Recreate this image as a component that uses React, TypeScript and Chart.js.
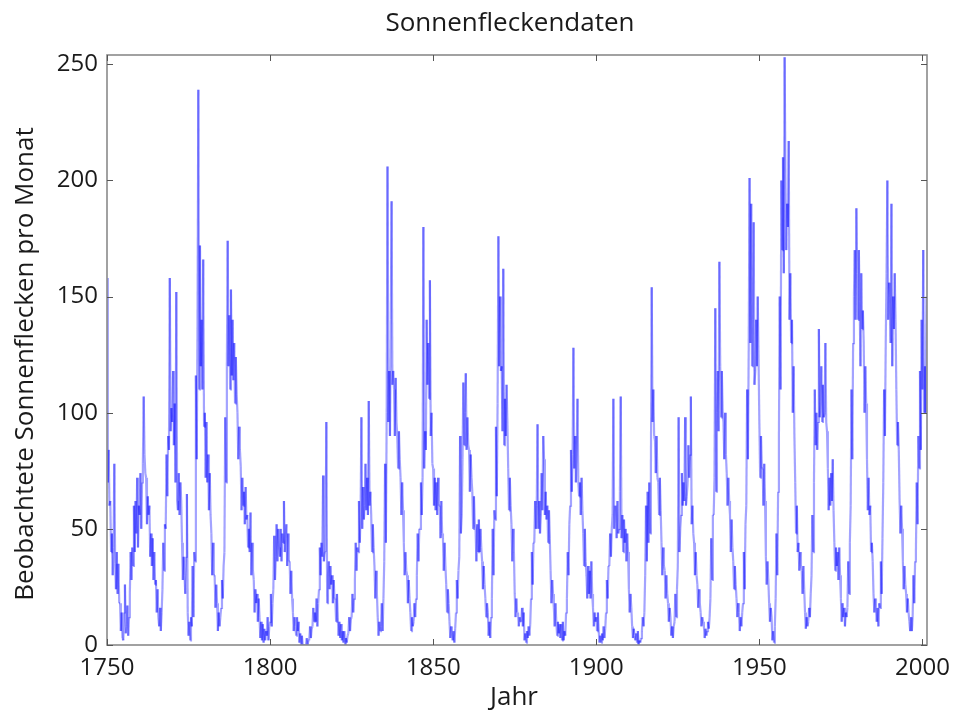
import React, { useEffect, useRef } from "react";
import { Chart, registerables } from "chart.js";

Chart.register(...registerables);

// Quarterly samples (4 per year), starting at 1750.0
const startYear = 1750;
const samplesPerYear = 4;

const sunspots1750 = [
  158, 70, 84, 60, 62, 40, 48, 30, 42, 78, 35, 24, 40, 22, 35, 18, 18, 6, 14, 3,
  2, 14, 26, 5, 8, 17, 4, 12, 22, 40, 28, 42, 34, 60, 40, 62, 48, 72, 42, 60,
  56, 74, 50, 70, 78, 107, 82, 74, 72, 52, 64, 56, 60, 38, 48, 34, 46, 28, 40, 26,
  28, 14, 24, 12, 8, 16, 6, 14, 24, 44, 32, 52, 50, 82, 64, 90, 84, 158, 92, 102,
  96, 118, 86, 104, 70, 152, 62, 58, 74, 56, 70, 62, 44, 28, 38, 30, 22, 38, 65, 14,
  4, 10, 2, 12, 8, 34, 12, 40, 36, 116, 80, 136, 239, 110, 172, 120, 140, 110, 166, 94,
  100, 72, 96, 70, 82, 58, 74, 56, 48, 30, 44, 30, 30, 16, 26, 18, 6, 14, 8, 12,
  16, 28, 20, 34, 40, 98, 70, 120, 174, 120, 142, 110, 153, 116, 140, 114, 130, 104, 124, 108,
  100, 80, 94, 84, 77, 58, 72, 60, 66, 52, 68, 54, 56, 42, 50, 40, 57, 30, 44, 32,
  28, 14, 24, 18, 22, 10, 20, 12, 3, 10, 2, 9, 1, 7, 2, 6, 4, 12, 2, 8,
];

const sunspots1800 = [
  10, 22, 8, 18, 24, 47, 28, 38, 52, 36, 50, 42, 38, 50, 36, 48, 44, 62, 40, 46,
  52, 34, 48, 36, 36, 22, 32, 20, 14, 6, 12, 8, 4, 12, 6, 10, 1, 5, 0, 4,
  0, 0, 0, 0, 0, 3, 0, 2, 2, 8, 3, 7, 8, 16, 10, 14, 10, 20, 8, 18,
  24, 42, 30, 44, 38, 73, 36, 40, 40, 96, 18, 30, 36, 24, 34, 26, 30, 18, 28, 20,
  20, 10, 22, 12, 4, 10, 3, 9, 2, 6, 1, 6, 0, 3, 1, 4, 5, 12, 6, 11,
  12, 22, 14, 20, 28, 44, 32, 42, 40, 62, 44, 56, 98, 50, 68, 54, 60, 78, 58, 72,
  56, 105, 60, 66, 56, 40, 52, 42, 34, 20, 32, 22, 12, 4, 10, 6, 8, 18, 6, 20,
  36, 78, 44, 100, 206, 96, 118, 90, 140, 191, 112, 118, 110, 90, 115, 96, 90, 76, 92, 80,
  72, 56, 70, 58, 44, 30, 40, 32, 30, 18, 28, 20, 14, 6, 12, 8, 10, 18, 12, 20,
  30, 48, 36, 50, 50, 70, 56, 72, 180, 76, 92, 84, 140, 112, 130, 106, 157, 90, 100, 78,
];

const sunspots1850 = [
  76, 60, 72, 58, 70, 56, 72, 60, 60, 46, 62, 48, 46, 32, 44, 34, 26, 14, 24, 18,
  10, 3, 8, 5, 2, 6, 1, 7, 14, 28, 20, 32, 38, 90, 48, 56, 80, 113, 86, 100,
  117, 84, 98, 86, 84, 66, 82, 72, 66, 50, 64, 52, 50, 36, 52, 40, 54, 40, 50, 42,
  36, 24, 34, 26, 20, 12, 18, 14, 4, 10, 3, 12, 20, 50, 30, 58, 54, 94, 64, 104,
  176, 120, 150, 118, 120, 92, 162, 86, 106, 90, 112, 96, 76, 58, 72, 60, 52, 36, 50, 40,
  22, 12, 20, 14, 14, 8, 12, 10, 10, 16, 8, 14, 2, 5, 1, 6, 3, 8, 4, 9,
  20, 40, 26, 44, 44, 62, 50, 60, 95, 50, 62, 48, 56, 74, 58, 90, 80, 56, 66, 54,
  60, 44, 58, 46, 32, 18, 28, 22, 16, 8, 18, 10, 4, 10, 5, 9, 3, 9, 2, 10,
  2, 6, 4, 14, 20, 40, 30, 52, 60, 84, 66, 82, 128, 76, 90, 70, 84, 106, 70, 64,
  70, 56, 72, 58, 48, 34, 50, 36, 30, 20, 34, 22, 32, 20, 36, 22, 16, 8, 14, 10,
];

const sunspots1900 = [
  12, 6, 14, 6, 1, 4, 1, 5, 2, 8, 3, 7, 14, 28, 20, 34, 34, 48, 38, 50,
  56, 106, 50, 60, 60, 46, 62, 48, 50, 66, 107, 46, 56, 40, 54, 44, 50, 36, 48, 40,
  24, 14, 22, 16, 8, 3, 7, 4, 2, 5, 1, 6, 0, 2, 1, 3, 6, 12, 8, 14,
  30, 60, 36, 66, 44, 70, 48, 74, 154, 96, 110, 90, 88, 74, 90, 72, 70, 56, 72, 58,
  44, 30, 42, 34, 32, 20, 30, 22, 18, 10, 16, 12, 4, 8, 3, 8, 10, 22, 12, 24,
  34, 98, 40, 50, 56, 74, 60, 70, 62, 98, 60, 64, 70, 86, 72, 82, 107, 52, 60, 48,
  44, 30, 40, 30, 26, 16, 24, 18, 14, 8, 12, 10, 8, 3, 7, 4, 6, 10, 7, 12,
  20, 46, 28, 56, 56, 72, 145, 66, 100, 118, 92, 165, 120, 98, 118, 100, 96, 80, 100, 82,
  74, 60, 72, 62, 56, 40, 54, 42, 36, 24, 34, 26, 20, 12, 18, 14, 6, 12, 8, 14,
  18, 40, 24, 52, 60, 110, 80, 130, 201, 130, 190, 120, 140, 182, 112, 118, 140, 120, 150, 124,
];

const sunspots1950 = [
  96, 72, 90, 76, 76, 60, 78, 62, 38, 26, 36, 28, 18, 10, 16, 12, 2, 6, 1, 8,
  20, 48, 30, 66, 90, 150, 110, 200, 170, 210, 160, 253, 201, 170, 190, 180, 217, 140, 160, 130,
  140, 100, 120, 90, 70, 48, 60, 40, 44, 32, 40, 34, 32, 22, 34, 24, 14, 7, 12, 8,
  10, 16, 12, 22, 30, 56, 40, 70, 110, 86, 100, 84, 96, 136, 98, 104, 120, 96, 112, 98,
  100, 130, 96, 92, 76, 58, 72, 60, 74, 62, 80, 58, 44, 32, 42, 34, 40, 28, 42, 30,
  20, 10, 18, 12, 16, 8, 14, 12, 16, 36, 22, 44, 60, 110, 80, 130, 150, 170, 140, 188,
  160, 140, 170, 148, 120, 160, 136, 144, 130, 100, 120, 104, 80, 58, 72, 56, 60, 40, 44, 36,
  22, 14, 20, 16, 10, 16, 8, 18, 16, 36, 22, 46, 70, 110, 90, 130, 160, 200, 140, 156,
  150, 130, 190, 120, 150, 136, 160, 140, 110, 86, 96, 84, 62, 48, 60, 50, 36, 24, 34, 26,
  22, 14, 20, 14, 10, 6, 12, 6, 12, 30, 18, 36, 40, 70, 52, 90, 76, 118, 84, 140,
  110, 170, 100, 120, 100, 150,
];

const xTicks = [1750, 1800, 1850, 1900, 1950, 2000];
const yTicks = [0, 50, 100, 150, 200, 250];

const titleText = "Sonnenfleckendaten";
const xTitle = "Jahr";
const yTitle = "Beobachtete Sonnenflecken pro Monat";

const FONT = '"Open Sans", "DejaVu Sans", sans-serif';

const framePlugin = {
  id: "matlabFrame",
  afterDraw(chart: any) {
    const { ctx, chartArea: a, scales } = chart;
    ctx.save();
    ctx.strokeStyle = "#8a8a8a";
    ctx.lineWidth = 1.6;
    ctx.strokeRect(a.left, a.top, a.right - a.left, a.bottom - a.top);
    ctx.strokeStyle = "#555";
    ctx.lineWidth = 1;
    const tl = 6;
    ctx.beginPath();
    for (const v of xTicks) {
      const x = Math.round(scales.x.getPixelForValue(v)) + 0.5;
      ctx.moveTo(x, a.bottom);
      ctx.lineTo(x, a.bottom - tl);
      ctx.moveTo(x, a.top);
      ctx.lineTo(x, a.top + tl);
    }
    for (const v of yTicks) {
      const y = Math.round(scales.y.getPixelForValue(v)) + 0.5;
      ctx.moveTo(a.left, y);
      ctx.lineTo(a.left + tl, y);
      ctx.moveTo(a.right, y);
      ctx.lineTo(a.right - tl, y);
    }
    ctx.stroke();

    ctx.fillStyle = "#1a1a1a";
    ctx.font = `26px ${FONT}`;
    ctx.textAlign = "center";
    ctx.textBaseline = "middle";
    ctx.fillText(titleText, 510, 24);
    ctx.fillText(xTitle, 514, 698);
    ctx.translate(26, 364);
    ctx.rotate(-Math.PI / 2);
    ctx.fillText(yTitle, 0, 0);
    ctx.restore();
  },
};

export default function App() {
  const ref = useRef<HTMLCanvasElement | null>(null);

  useEffect(() => {
    const all = [
      ...sunspots1750,
      ...sunspots1800,
      ...sunspots1850,
      ...sunspots1900,
      ...sunspots1950,
    ];
    const points = all.map((v, i) => ({ x: startYear + i / samplesPerYear, y: v }));

    const chart = new Chart(ref.current as HTMLCanvasElement, {
      type: "line",
      data: {
        datasets: [
          {
            data: points,
            borderColor: "rgba(0,0,255,0.36)",
            borderWidth: 2.2,
            pointRadius: 0,
            tension: 0,
            segment: {
              borderColor: (c: any) =>
                c.p0DataIndex % 2 ? "rgba(0,0,255,0.36)" : "rgba(0,0,254,0.36)",
            },
          },
        ],
      },
      options: {
        animation: false,
        responsive: true,
        maintainAspectRatio: false,
        parsing: false,
        layout: { padding: { left: 0, right: 26, top: 55, bottom: 0 } },
        plugins: {
          legend: { display: false },
          tooltip: { enabled: false },
          title: { display: false },
        },
        scales: {
          x: {
            type: "linear",
            min: 1750,
            max: 2001.4,
            grid: { display: false, drawTicks: false },
            border: { display: false },
            afterBuildTicks: (s: any) => {
              s.ticks = xTicks.map((v) => ({ value: v }));
            },
            afterFit: (s: any) => {
              s.height = 70;
              s.paddingLeft = 0;
              s.paddingRight = 0;
            },
            ticks: {
              padding: 9,
              maxRotation: 0,
              autoSkip: false,
              color: "#1a1a1a",
              font: { family: FONT, size: 24 },
              callback: (v: any) => String(v),
            },
          },
          y: {
            type: "linear",
            min: 0,
            max: 254,
            grid: { display: false, drawTicks: false },
            border: { display: false },
            afterBuildTicks: (s: any) => {
              s.ticks = yTicks.map((v) => ({ value: v }));
            },
            afterFit: (s: any) => {
              s.width = 107;
              s.paddingTop = 0;
              s.paddingBottom = 0;
            },
            ticks: {
              padding: 9,
              autoSkip: false,
              color: "#1a1a1a",
              font: { family: FONT, size: 24 },
              callback: (v: any) => String(v),
            },
          },
        },
      },
      plugins: [framePlugin],
    });
    return () => chart.destroy();
  }, []);

  return (
    <div
      style={{
        position: "fixed",
        left: 0,
        top: 0,
        width: 953,
        height: 715,
        background: "#fff",
      }}
    >
      <canvas ref={ref} />
    </div>
  );
}
